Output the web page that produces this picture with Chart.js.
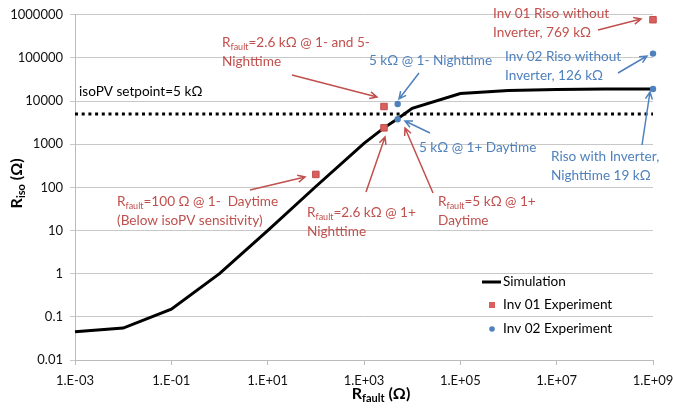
<!DOCTYPE html>
<html>
<head>
    <title>Riso vs Rfault</title>
    <script src="https://cdn.jsdelivr.net/npm/chart.js"></script>
    <style>
        html, body { margin: 0; padding: 0; background: #fff; }
        #wrap { width: 673px; height: 415px; }
    </style>
</head>
<body>
    <div id="wrap"><canvas id="myChart"></canvas></div>
    <script>
        // Simulation curve (Rfault -> Riso)
        const simX = [1e-3, 1e-2, 1e-1, 1, 10, 100, 1000, 2600, 5000, 1e4, 1e5, 1e6, 1e7, 1e8, 1e9];
        const simY = [0.045, 0.055, 0.15, 1, 10, 105, 1050, 2400, 3900, 6800, 15000, 17500, 18500, 19000, 19000];

        // Experiments
        const inv01X = [2600, 2600, 100, 1e9];
        const inv01Y = [7500, 2400, 200, 769000];
        const inv02X = [5000, 5000, 1e9, 1e9];
        const inv02Y = [8600, 3800, 126000, 19000];

        // isoPV setpoint
        const setpointX = [1e-3, 1e9];
        const setpointY = [5000, 5000];

        const xTicks = [1e-3, 1e-1, 1e1, 1e3, 1e5, 1e7, 1e9];
        const xTickLabels = ['1.E-03', '1.E-01', '1.E+01', '1.E+03', '1.E+05', '1.E+07', '1.E+09'];
        const yTicks = [0.01, 0.1, 1, 10, 100, 1000, 10000, 100000, 1000000];
        const yTickLabels = ['0.01', '0.1', '1', '10', '100', '1000', '10000', '100000', '1000000'];

        const RED = '#c0504d';
        const BLUE = '#4f81bd';

        const toPoints = (xs, ys) => xs.map((x, i) => ({x: x, y: ys[i]}));

        // text annotations: y is the middle of the first line
        const notes = [
            {lines: ['isoPV setpoint=5 kΩ'], color: '#000', x: 79, y: 92},
            {lines: ['R_fault=2.6 kΩ @ 1- and 5-', 'Nighttime'], color: RED, x: 222, y: 43, from: [292, 75], to: [377, 97]},
            {lines: ['5 kΩ @ 1- Nighttime'], color: BLUE, x: 369, y: 61, from: [419, 73], to: [399, 99]},
            {lines: ['Inv 01 Riso without', 'Inverter, 769 kΩ'], color: RED, x: 493, y: 14, from: [598, 30], to: [641, 19]},
            {lines: ['Inv 02 Riso without', 'Inverter, 126 kΩ'], color: BLUE, x: 505, y: 57, from: [618, 73], to: [647, 56]},
            {lines: ['5 kΩ @ 1+ Daytime'], color: BLUE, x: 419, y: 148, from: [430, 133], to: [405, 121]},
            {lines: ['Riso with Inverter,', 'Nighttime 19 kΩ'], color: BLUE, x: 551, y: 157, from: [642, 145], to: [650, 92]},
            {lines: ['R_fault=2.6 kΩ @ 1+', 'Nighttime'], color: RED, x: 307, y: 213, from: [366, 192], to: [385, 137]},
            {lines: ['R_fault=5 kΩ @ 1+', 'Daytime'], color: RED, x: 438, y: 202, from: [433, 193], to: [405, 128]},
            {lines: ['R_fault=100 Ω @ 1-  Daytime', '(Below isoPV sensitivity)'], color: RED, x: 117, y: 202, from: [250, 190], to: [305, 177]}
        ];

        const FONT = 'Lato';
        const NOTE_SIZE = 13.6;

        // draw "R_fault=..." style text with subscripts, left aligned, middle baseline
        function drawRich(ctx, str, x, y, size, bold) {
            const parts = str.split(/_([a-z]+)/);
            const w = bold ? 'bold ' : '';
            let cx = x;
            parts.forEach((p, i) => {
                const sub = i % 2 === 1;
                ctx.font = w + (sub ? Math.round(size * 0.68) : size) + 'px ' + FONT;
                ctx.fillText(p, cx, sub ? y + size * 0.3 : y);
                cx += ctx.measureText(p).width;
            });
            return cx - x;
        }

        function measureRich(ctx, str, size, bold) {
            const parts = str.split(/_([a-z]+)/);
            const w = bold ? 'bold ' : '';
            let total = 0;
            parts.forEach((p, i) => {
                ctx.font = w + (i % 2 === 1 ? Math.round(size * 0.68) : size) + 'px ' + FONT;
                total += ctx.measureText(p).width;
            });
            return total;
        }

        function arrow(ctx, from, to, color) {
            const ang = Math.atan2(to[1] - from[1], to[0] - from[0]);
            ctx.strokeStyle = color;
            ctx.lineWidth = 1.5;
            ctx.beginPath();
            ctx.moveTo(from[0], from[1]);
            ctx.lineTo(to[0], to[1]);
            ctx.moveTo(to[0] - 8 * Math.cos(ang - 0.45), to[1] - 8 * Math.sin(ang - 0.45));
            ctx.lineTo(to[0], to[1]);
            ctx.lineTo(to[0] - 8 * Math.cos(ang + 0.45), to[1] - 8 * Math.sin(ang + 0.45));
            ctx.stroke();
        }

        const extras = {
            id: 'extras',
            afterDraw(chart) {
                const ctx = chart.ctx;
                const area = chart.chartArea;
                ctx.save();
                ctx.textBaseline = 'middle';
                ctx.textAlign = 'left';

                // notes and arrows
                notes.forEach(n => {
                    ctx.fillStyle = n.color;
                    n.lines.forEach((line, i) => drawRich(ctx, line, n.x, n.y + i * 18.5, NOTE_SIZE, false));
                    if (n.from) arrow(ctx, n.from, n.to, n.color);
                });

                // legend
                const lx = 482;
                ctx.strokeStyle = '#000';
                ctx.lineWidth = 3;
                ctx.beginPath();
                ctx.moveTo(lx, 282);
                ctx.lineTo(lx + 19, 282);
                ctx.stroke();
                ctx.fillStyle = '#d9605d';
                ctx.fillRect(lx + 7, 302, 6, 6);
                ctx.fillStyle = BLUE;
                ctx.beginPath();
                ctx.arc(lx + 10, 329, 2.8, 0, Math.PI * 2);
                ctx.fill();
                ctx.fillStyle = '#000';
                ctx.font = NOTE_SIZE + 'px ' + FONT;
                ctx.fillText('Simulation', lx + 21, 282);
                ctx.fillText('Inv 01 Experiment', lx + 21, 305);
                ctx.fillText('Inv 02 Experiment', lx + 21, 329);

                // x axis title
                const xt = 'R_fault (Ω)';
                const xw = measureRich(ctx, xt, 16, true);
                drawRich(ctx, xt, 381 - xw / 2, 394, 16, true);

                // y axis title
                const yt = 'R_iso (Ω)';
                const yw = measureRich(ctx, yt, 16, true);
                ctx.translate(17, (area.top + area.bottom) / 2 - 4);
                ctx.rotate(-Math.PI / 2);
                drawRich(ctx, yt, -yw / 2, 0, 16, true);
                ctx.restore();
            }
        };

        Chart.defaults.font.family = FONT;
        Chart.defaults.font.size = 13;
        Chart.defaults.color = '#111';

        const ctx = document.getElementById('myChart').getContext('2d');
        new Chart(ctx, {
            type: 'scatter',
            data: {
                datasets: [
                    {
                        label: 'Inv 02 Experiment',
                        data: toPoints(inv02X, inv02Y),
                        pointStyle: 'circle',
                        pointRadius: 3.2,
                        backgroundColor: BLUE,
                        borderColor: BLUE,
                        borderWidth: 0,
                        clip: false
                    },
                    {
                        label: 'Inv 01 Experiment',
                        data: toPoints(inv01X, inv01Y),
                        pointStyle: 'rect',
                        pointRadius: 4.6,
                        backgroundColor: '#d9605d',
                        borderColor: '#c0504d',
                        borderWidth: 1,
                        clip: false
                    },
                    {
                        label: 'Simulation',
                        data: toPoints(simX, simY),
                        showLine: true,
                        borderColor: '#000',
                        borderWidth: 3,
                        pointRadius: 0,
                        tension: 0,
                        clip: false
                    },
                    {
                        label: 'isoPV setpoint',
                        data: toPoints(setpointX, setpointY),
                        showLine: true,
                        borderColor: '#000',
                        borderWidth: 3,
                        borderDash: [3, 3.7],
                        pointRadius: 0
                    }
                ]
            },
            options: {
                responsive: true,
                maintainAspectRatio: false,
                animation: false,
                layout: {padding: {top: 13, right: 20, left: 0, bottom: 0}},
                plugins: {
                    legend: {display: false},
                    tooltip: {enabled: false}
                },
                scales: {
                    x: {
                        type: 'logarithmic',
                        min: 1e-3,
                        max: 1e9,
                        afterBuildTicks: s => { s.ticks = xTicks.map(v => ({value: v})); },
                        afterFit: s => { s.height = 55; s.paddingRight = 0; s.paddingLeft = 0; },
                        ticks: {
                            autoSkip: false,
                            maxRotation: 0,
                            padding: 8,
                            callback: (v, i) => xTickLabels[i]
                        },
                        grid: {drawOnChartArea: false, drawTicks: true, tickLength: 5, color: '#bbb'},
                        border: {color: '#bbb'}
                    },
                    y: {
                        type: 'logarithmic',
                        min: 0.01,
                        max: 1000000,
                        afterBuildTicks: s => { s.ticks = yTicks.map(v => ({value: v})); },
                        afterFit: s => { s.width = 75; },
                        ticks: {
                            autoSkip: false,
                            padding: 7,
                            callback: (v, i) => yTickLabels[i]
                        },
                        grid: {color: '#c8c8c8', tickLength: 5},
                        border: {color: '#bbb'}
                    }
                }
            },
            plugins: [extras]
        });
    </script>
</body>
</html>
